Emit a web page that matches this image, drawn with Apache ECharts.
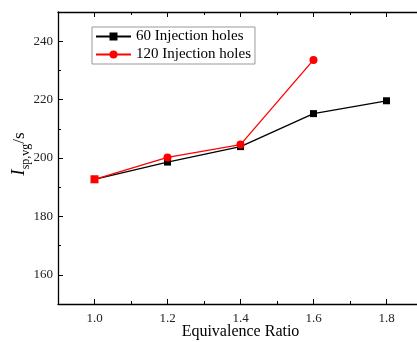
<!DOCTYPE html>
<html><head><meta charset="utf-8">
<script src="https://cdn.jsdelivr.net/npm/echarts@6/dist/echarts.min.js"></script>
<style>html,body{margin:0;padding:0;background:#fff}#c{width:417px;height:342px}</style>
</head><body><div id="c"></div>
<script>
const ratios = [1.0, 1.2, 1.4, 1.6, 1.8];
const holes60 = [192.7, 198.6, 203.9, 215.2, 219.6];
const holes120 = [192.7, 200.2, 204.6, 233.6];
const xMajor = [1.0, 1.2, 1.4, 1.6, 1.8];
const yMajor = [160, 180, 200, 220, 240];
const seriesNames = ['60 Injection holes', '120 Injection holes'];

const FONT = 'Liberation Serif';
const chart = echarts.init(document.getElementById('c'));
const xBase = {type: 'value', min: 0.9, max: 1.9, gridIndex: 0, splitLine: {show: false}};
const yBase = {type: 'value', min: 150, max: 250, gridIndex: 0, splitLine: {show: false}};
const line = {show: true, lineStyle: {color: '#000', width: 1.3}};
chart.setOption({
  animation: false,
  grid: {left: 58, top: 12, width: 365, height: 292, containLabel: false, outerBoundsMode: 'none'},
  legend: {
    orient: 'vertical', left: 92, top: 27, padding: [2, 4, 2, 3], itemGap: 3,
    itemWidth: 35, itemHeight: 10, borderColor: '#999', borderWidth: 1,
    textStyle: {fontFamily: FONT, fontSize: 15, color: '#000'},
    data: seriesNames
  },
  xAxis: [
    Object.assign({}, xBase, {
      position: 'bottom', axisLine: line,
      axisTick: {show: true, inside: true, length: 5, customValues: xMajor, lineStyle: {color: '#000'}},
      axisLabel: {customValues: xMajor, formatter: v => v.toFixed(1), fontFamily: FONT, fontSize: 13, color: '#222', margin: 8},
      name: 'Equivalence Ratio', nameLocation: 'middle', nameGap: 20, nameMoveOverlap: false,
      nameTextStyle: {fontFamily: FONT, fontSize: 16, color: '#000'}
    }),
    Object.assign({}, xBase, {
      position: 'bottom', axisLine: {show: false}, interval: 0.1,
      axisTick: {show: true, inside: true, length: 3, lineStyle: {color: '#000'}},
      axisLabel: {show: false}
    }),
    Object.assign({}, xBase, {
      position: 'top', axisLine: line,
      axisTick: {show: true, inside: true, length: 5, customValues: xMajor, lineStyle: {color: '#000'}},
      axisLabel: {show: false}
    }),
    Object.assign({}, xBase, {
      position: 'top', axisLine: {show: false}, interval: 0.1,
      axisTick: {show: true, inside: true, length: 3, lineStyle: {color: '#000'}},
      axisLabel: {show: false}
    })
  ],
  yAxis: [
    Object.assign({}, yBase, {
      position: 'left', axisLine: line,
      axisTick: {show: true, inside: true, length: 5, customValues: yMajor, lineStyle: {color: '#000'}},
      axisLabel: {customValues: yMajor, fontFamily: FONT, fontSize: 13, color: '#222', margin: 5},
      name: '{i|I}{sub|sp,vg}{s|/s}', nameLocation: 'middle', nameGap: 30, nameRotate: 90, nameMoveOverlap: false,
      nameTextStyle: {
        color: '#000', padding: [0, 0, 0, 8],
        rich: {
          i: {fontFamily: FONT, fontStyle: 'italic', fontSize: 19, lineHeight: 22, verticalAlign: 'bottom'},
          sub: {fontFamily: FONT, fontSize: 12, lineHeight: 22, verticalAlign: 'bottom', padding: [0, 0, -4, 0]},
          s: {fontFamily: FONT, fontSize: 17, lineHeight: 22, verticalAlign: 'bottom'}
        }
      }
    }),
    Object.assign({}, yBase, {
      position: 'left', axisLine: {show: false}, interval: 10,
      axisTick: {show: true, inside: true, length: 3, lineStyle: {color: '#000'}},
      axisLabel: {show: false}
    })
  ],
  series: [
    {
      name: seriesNames[0], type: 'line', xAxisIndex: 0, yAxisIndex: 0,
      data: ratios.map((x, i) => [x, holes60[i]]),
      symbol: 'rect', symbolSize: 7,
      lineStyle: {color: '#000', width: 1.3}, itemStyle: {color: '#000'}
    },
    {
      name: seriesNames[1], type: 'line', xAxisIndex: 0, yAxisIndex: 0,
      data: holes120.map((v, i) => i === 0 ? {value: [ratios[i], v], symbol: 'rect'} : [ratios[i], v]),
      symbol: 'circle', symbolSize: 8,
      lineStyle: {color: '#ff0000', width: 1.3}, itemStyle: {color: '#ff0000'}
    }
  ]
});
</script></body></html>
